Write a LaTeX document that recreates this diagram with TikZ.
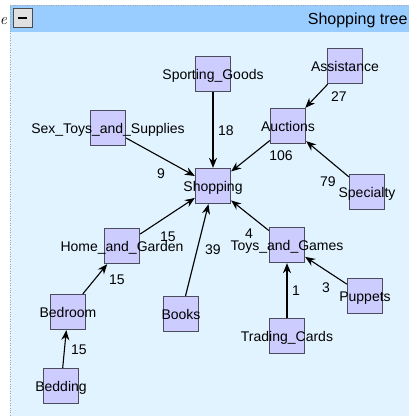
\documentclass[tikz,border=0pt]{standalone}
\usepackage{fontspec}
\setsansfont{Liberation Sans}
\usetikzlibrary{arrows.meta}
\definecolor{titlebar}{HTML}{99CCFF}
\definecolor{pane}{HTML}{E1F3FF}
\definecolor{boxfill}{HTML}{CCCCFF}
\definecolor{boxline}{HTML}{4C4C5C}
\newcommand{\boxtext}[1]{\makebox[0pt]{#1}}

\begin{document}
\begin{tikzpicture}[x=1pt, y=-1pt, >={Stealth[length=10pt,width=8pt]}, font=\sffamily\fontsize{14}{16}\selectfont]

	\tikzstyle{cat} = [draw=boxline, fill=boxfill, line width=1.3pt, minimum size=35pt, inner sep=0pt, text height=10pt, text depth=0pt]
	
	\tikzstyle{count} = [inner sep=0pt]
	
	\tikzstyle{line} = [draw, ->, line width=1.1pt]
	
	\useasboundingbox (0,0) rectangle (409,416);
	\clip (0,0) rectangle (409,416);
	
	% window pane and title bar
	\fill[pane] (10,5) rectangle (420,420);
	\fill[titlebar] (10,5) rectangle (420,32);
	\draw[gray!70, dotted] (10,420) -- (10,5) -- (420,5);
	\node[draw=black!70, fill=black!12, minimum size=19pt, inner sep=0pt] (toggle) at (22.5,18) {\rule{9pt}{1.6pt}};
	\node[anchor=east, font=\sffamily\fontsize{16}{18}\selectfont] (title) at (411,20) {Shopping tree};
	\node[font=\fontsize{16}{18}\selectfont\itshape, inner sep=0pt] (cut) at (3.5,21) {e};
	
	\node[cat] (shopping) at (213,186) {\boxtext{Shopping}};
	\node[cat] (sporting goods) at (213,74) {\boxtext{Sporting\_Goods}};
	\node[cat] (sex toys) at (108,128) {\boxtext{Sex\_Toys\_and\_Supplies}};
	\node[cat] (auctions) at (288,126) {\boxtext{Auctions}};
	\node[cat] (assistance) at (345,66) {\boxtext{Assistance}};
	\node[cat] (specialty) at (367,192) {\boxtext{Specialty}};
	\node[cat] (home garden) at (122,246) {\boxtext{Home\_and\_Garden}};
	\node[cat] (bedroom) at (68,312) {\boxtext{Bedroom}};
	\node[cat] (bedding) at (61,386) {\boxtext{Bedding}};
	\node[cat] (books) at (181,314) {\boxtext{Books}};
	\node[cat] (toys games) at (287,245) {\boxtext{Toys\_and\_Games}};
	\node[cat] (puppets) at (365,296) {\boxtext{Puppets}};
	\node[cat] (trading cards) at (287,336) {\boxtext{Trading\_Cards}};
	
	\path [line] (sporting goods) edge (shopping);
	\path [line] (sex toys) edge (shopping);
	\path [line] (auctions) edge (shopping);
	\path [line] (assistance) edge (auctions);
	\path [line] (specialty) edge (auctions);
	\path [line] (home garden) edge (shopping);
	\path [line] (books) edge (shopping);
	\path [line] (toys games) edge (shopping);
	\path [line] (bedroom) edge (home garden);
	\path [line] (bedding) edge (bedroom);
	\path [line] (trading cards) edge (toys games);
	\path [line] (puppets) edge (toys games);
	
	\node[count] (n18) at (226,131) {18};
	\node[count] (n9) at (161,174) {9};
	\node[count] (n106) at (281,156) {106};
	\node[count] (n27) at (339,97) {27};
	\node[count] (n79) at (328,182) {79};
	\node[count] (n15a) at (168,237) {15};
	\node[count] (n39) at (213,250) {39};
	\node[count] (n4) at (249,234) {4};
	\node[count] (n15b) at (117,280) {15};
	\node[count] (n15c) at (79,350) {15};
	\node[count] (n1) at (296,291) {1};
	\node[count] (n3) at (326,288) {3};
	
\end{tikzpicture}
\end{document}
